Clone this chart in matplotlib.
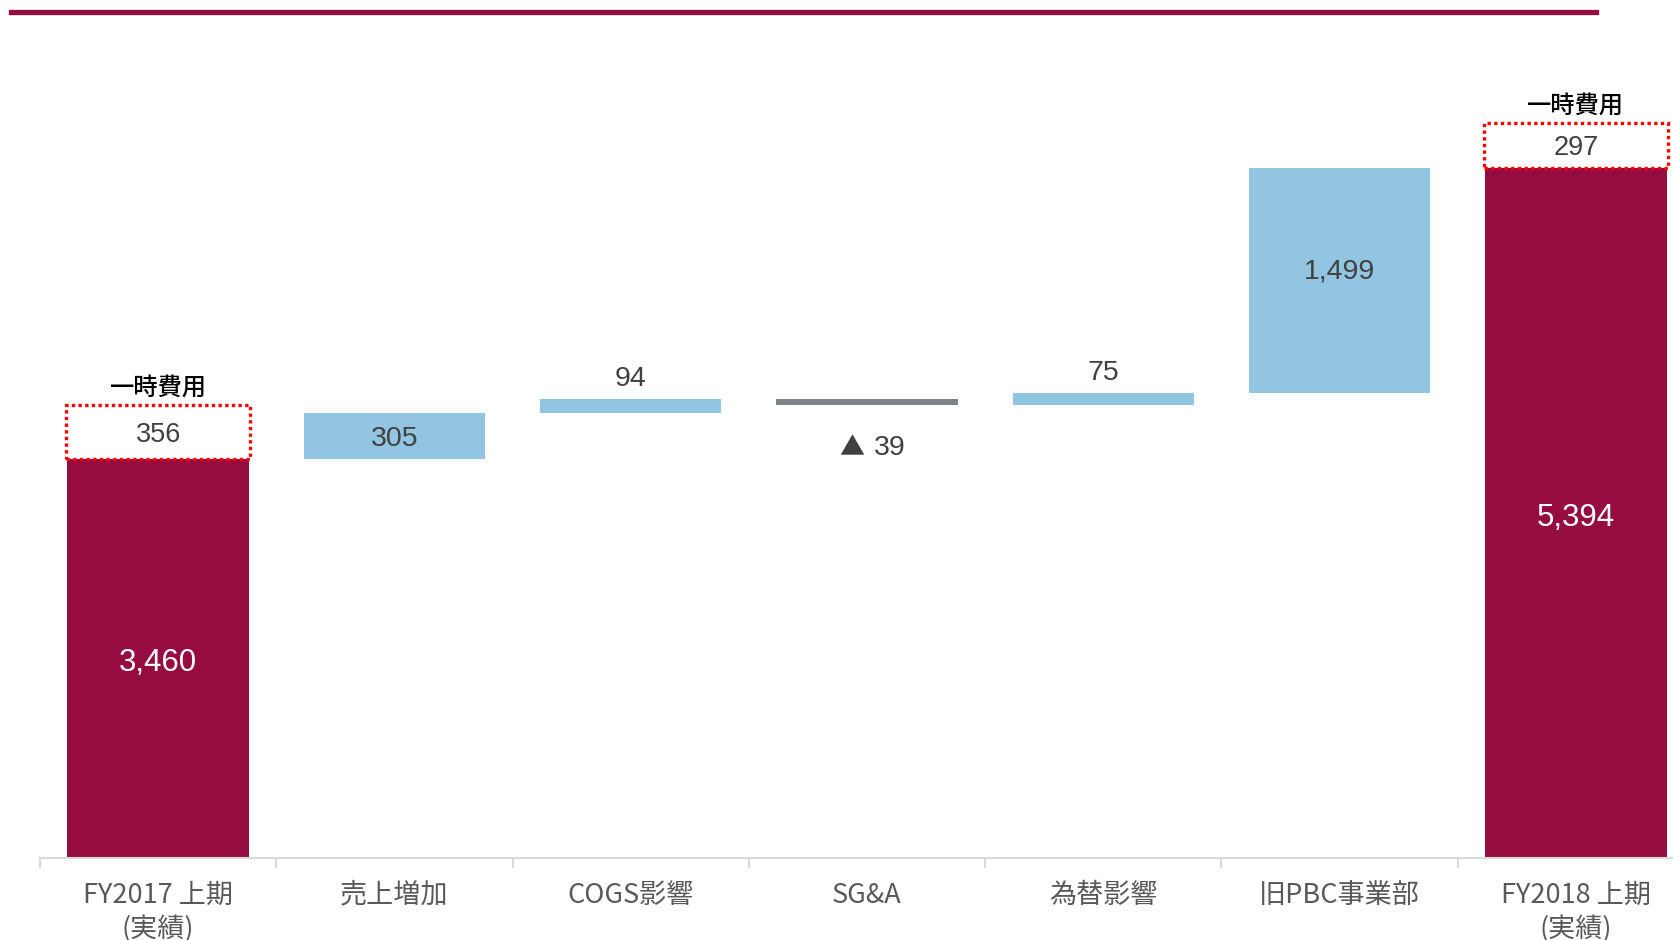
import matplotlib.pyplot as plt
from matplotlib.lines import Line2D

# Operating profit bridge, FY2017 H1 -> FY2018 H1
categories = ["FY2017 上期\n(実績)", "売上増加", "COGS影響", "SG&A", "為替影響", "旧PBC事業部", "FY2018 上期\n(実績)"]
start_value = 3460
step_values = [305, 94, -39, 75, 1499]
end_value = 5394
one_time_costs = [356, 297]          # shown on top of the first / last bar
one_time_label = "一時費用"

MAROON = "#960C40"
BLUE = "#92C5E2"
GRAY_BAR = "#808589"
TEXT_GRAY = "#404040"
TICK_GRAY = "#595959"
AXIS_GRAY = "#d9d9d9"

CJK = ["Noto Sans CJK JP", "DejaVu Sans"]
NUM = ["Liberation Sans", "Noto Sans CJK JP", "DejaVu Sans"]

fig = plt.figure(figsize=(16.74, 9.40), dpi=100)
ax = fig.add_axes([40 / 1674, 82 / 940, 1654 / 1674, 767 / 940])

width = 0.768
n = len(categories)


def centered_label(x, y, s, size, color, dy=-2.5):
    # digits have no descenders, so nudge down a little to look centred
    ax.annotate(s, (x, y), xytext=(0, dy), textcoords="offset points",
                ha="center", va="center", fontsize=size, color=color, family=NUM)


# totals
ax.bar([0, n - 1], [start_value, end_value], width=width, color=MAROON, zorder=2)

# one-time cost boxes stacked on the totals
for x, base, cost in [(0, start_value, one_time_costs[0]), (n - 1, end_value, one_time_costs[1])]:
    ax.bar(x, cost, bottom=base, width=width + 0.01, facecolor="none", edgecolor="#ff0000",
           linewidth=2.4, linestyle=(0, (1, 1)), zorder=3)
    centered_label(x, base + cost / 2, f"{cost:,}", 19.5, TEXT_GRAY, dy=-2)
    ax.annotate(one_time_label, (x, base + cost), xytext=(0, 12.5), textcoords="offset points",
                ha="center", va="center", fontsize=17.5, fontweight="medium", color="black", family=CJK)

centered_label(0, start_value / 2 + 406, f"{start_value:,}", 22.5, "white", dy=-3)
centered_label(n - 1, end_value / 2 + 406, f"{end_value:,}", 22.5, "white", dy=-3.5)

# floating steps
level = start_value
for i, v in enumerate(step_values, start=1):
    bottom = level if v >= 0 else level + v
    color = BLUE if v >= 0 else GRAY_BAR
    ax.bar(i, abs(v), bottom=bottom, width=width, color=color, zorder=2)
    if abs(v) >= 300:
        frac = 0.5 if abs(v) < 1000 else 0.555
        centered_label(i, bottom + abs(v) * frac, f"{v:,}", 20.5, TEXT_GRAY)
    elif v >= 0:
        ax.annotate(f"{v:,}", (i, bottom + v), xytext=(0, 14.5), textcoords="offset points",
                    ha="center", va="center", fontsize=20.5, color=TEXT_GRAY, family=NUM)
    else:
        # negative steps: triangle marker followed by the magnitude
        ax.annotate("▲", (i, bottom), xytext=(-11, -31.5), textcoords="offset points",
                    ha="center", va="center", fontsize=18, color=TEXT_GRAY, family=CJK)
        ax.annotate(f"{abs(v)}", (i, bottom), xytext=(16.5, -31), textcoords="offset points",
                    ha="center", va="center", fontsize=20.5, color=TEXT_GRAY, family=NUM)
    level += v

# axis styling
ax.set_xlim(-0.5, n - 0.5)
ax.set_ylim(812, 5902)
for side in ["left", "right", "top"]:
    ax.spines[side].set_visible(False)
ax.spines["bottom"].set_color(AXIS_GRAY)
ax.spines["bottom"].set_linewidth(1.5)
ax.set_yticks([])

ax.set_xticks(range(n))
ax.set_xticklabels(categories, fontsize=19.5, color=TICK_GRAY, family=CJK, linespacing=1.3)
ax.tick_params(axis="x", which="major", length=0, pad=17)
ax.set_xticks([i - 0.5 for i in range(n + 1)], minor=True)
ax.tick_params(axis="x", which="minor", length=7, width=1.5, color=AXIS_GRAY)

# header rule
fig.add_artist(Line2D([11 / 1674, 1596 / 1674], [1 - 11.5 / 940] * 2, color=MAROON, linewidth=3.8))

fig.savefig("out.png", dpi=100)
